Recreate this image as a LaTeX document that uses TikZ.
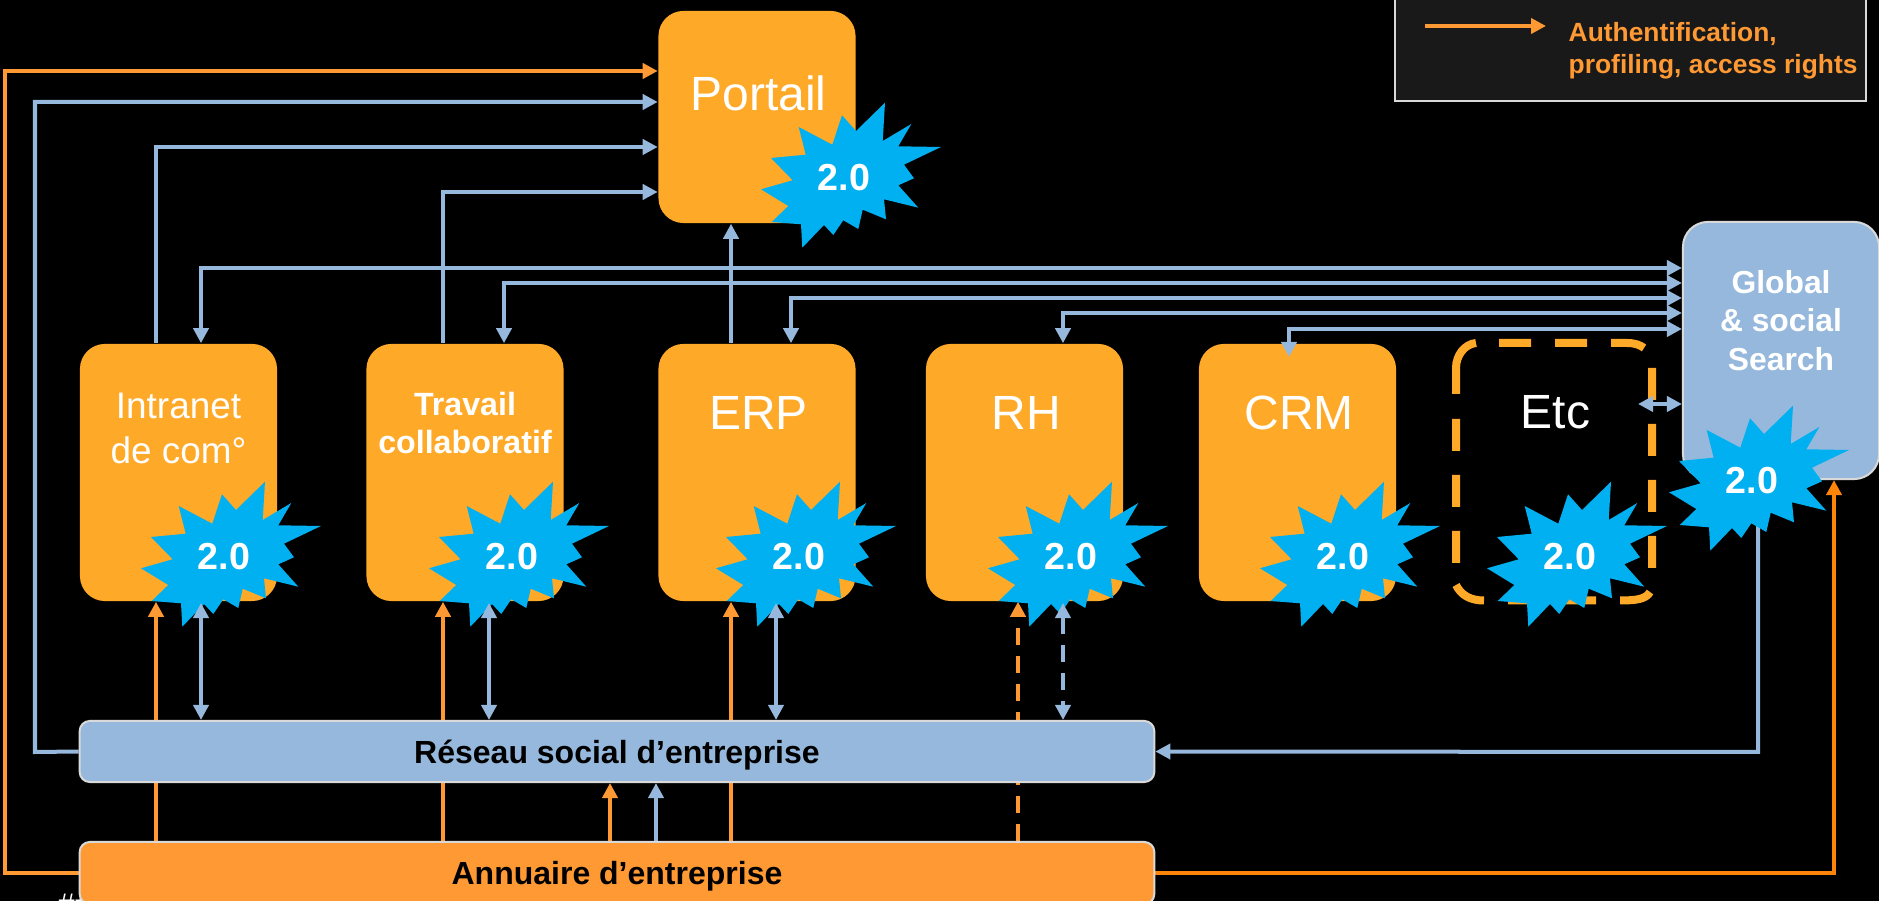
\documentclass[tikz,border=0pt]{standalone}
\usepackage{fontspec}
\setmainfont{Liberation Sans}
\usetikzlibrary{arrows.meta}
\definecolor{boxorange}{HTML}{FFA928}
\definecolor{wireorange}{HTML}{FF9933}
\definecolor{wireblue}{HTML}{95B8DC}
\definecolor{burstblue}{HTML}{00B0F0}
\pgfdeclarelayer{ground}
\pgfdeclarelayer{wires}
\pgfdeclarelayer{front}
\pgfsetlayers{ground,wires,main,front}
\tikzset{
    tip/.style={-{Triangle[length=0.15cm,width=0.15cm]}},
    bothtips/.style={{Triangle[length=0.15cm,width=0.15cm]}-{Triangle[length=0.15cm,width=0.15cm]}},
    orangewire/.style={draw=wireorange,line width=0.04cm},
    bluewire/.style={draw=wireblue,line width=0.04cm},
    dashwire/.style={dash pattern=on 0.17cm off 0.11cm},
    appbox/.style={fill=boxorange,rounded corners=0.25cm,minimum width=1.97cm,minimum height=2.57cm,text=white,align=center,inner sep=0pt},
    bigtext/.style={font=\fontsize{13.65}{16}\selectfont,execute at begin node={\kern0.03cm}},
    bartext/.style={font=\fontsize{9.1}{11}\selectfont\bfseries,text=black,text height=0.235cm,text depth=0cm},
    barbox/.style={rounded corners=0.1cm,draw=white!85!black,line width=0.02cm,minimum width=10.74cm,inner sep=0pt},
    bursttext/.style={font=\fontsize{10.7}{12}\selectfont\bfseries,text=white,inner sep=0pt},
}
\newcommand{\burstpath}{(41,-75.3) -- (38.7,-37) -- (67.3,-54) -- (54.3,-31.7) -- (97,-31) -- (60,-13.3) -- (70,0.3) -- (54.3,7.3) -- (74.3,29.7) -- (40,21.3) -- (42,41.3) -- (18.7,31.7) -- (14.3,51) -- (-0.7,42.3) -- (-10.7,57) -- (-20,47) -- (-41.7,69.7) -- (-43,46.3) -- (-72.3,44) -- (-55.7,28) -- (-83,11.3) -- (-51.3,2.3) -- (-73,-20) -- (-38.3,-23.3) -- (-45.3,-51) -- (-11.7,-33.3) -- (-2,-62.7) -- (12,-47) -- cycle}
\begin{document}
\begin{tikzpicture}[x=0.01cm,y=-0.01cm]
    \path[use as bounding box,clip] (0,0) rectangle (1879,901);
    \begin{pgfonlayer}{ground}
    \fill[black] (0,0) rectangle (1879,901);
    \end{pgfonlayer}
    % legend
    \node[draw=white!85!black,fill=black!90!white,line width=0.02cm,minimum width=4.7cm,minimum height=1.22cm] (legend) at (1630.5,40) {};
    \node[font=\fontsize{7.5}{9.1}\selectfont\bfseries,text=wireorange,align=left,inner sep=0pt,anchor=west] (legendtext) at (1568,50.5) {Authentification,\\profiling, access rights};
    \coordinate (legendstart) at (1425,26);
    \coordinate (legendend) at (1546,26);
    \draw[orangewire,tip] (legendstart) -- (legendend);
    % boxes
    \node[appbox,bigtext,minimum height=2.12cm,text height=0.2cm,text depth=0.32cm] (portail) at (757,117) {Portail};
    \node[appbox,font=\fontsize{10.5}{12.8}\selectfont,text height=0.2cm,text depth=0.37cm] (intranet) at (178.5,472.5) {Intranet\\de com°};
    \node[appbox,font=\fontsize{9.15}{10.8}\selectfont\bfseries,text height=0.2cm,text depth=0.58cm] (travail) at (465,472.5) {Travail\\collaboratif};
    \node[appbox,bigtext,text height=0.2cm,text depth=1.06cm] (erp) at (757,472.5) {ERP};
    \node[appbox,bigtext,text height=0.2cm,text depth=1.06cm] (rh) at (1024.5,472.5) {RH};
    \node[appbox,bigtext,text height=0.2cm,text depth=1.06cm] (crm) at (1297.5,472.5) {CRM};
    \node[appbox,bigtext,fill=none,minimum width=1.96cm,text height=0.2cm,text depth=1.05cm] (etc) at (1554,471.5) {Etc};
    % dashes of the Etc outline
    \draw[boxorange,line width=0.08cm]
        (1456,563) -- (1456,531) (1456,507) -- (1456,475) (1456,451) -- (1456,419)
        (1456,394) -- (1456,368) .. controls (1456,355) and (1465,344) .. (1476,343)
        (1499,343) -- (1531,343) (1555,343) -- (1587,343)
        (1611,343) -- (1627,343) .. controls (1635,343) and (1640,345) .. (1644,348)
        (1652,368) -- (1652,400) (1652,424) -- (1652,456) (1652,480) -- (1652,512) (1652,536) -- (1652,568)
        (1650,592) .. controls (1646,599) and (1637,600.5) .. (1620,600.5)
        (1596,600.5) -- (1564,600.5) (1540,600.5) -- (1508,600.5)
        (1484,600.5) .. controls (1470,600.5) and (1461,595) .. (1456,585);
    \node[appbox,fill=wireblue,draw=white!85!black,line width=0.02cm,minimum width=1.96cm,font=\fontsize{9.05}{10.95}\selectfont\bfseries,text height=0.6cm,text depth=0.2cm] (search) at (1781,350.5) {Global\\\& social\\Search};
    \node[barbox,bartext,fill=wireblue,minimum height=0.61cm] (reseau) at (617,751.5) {Réseau social d’entreprise};
    \node[barbox,bartext,fill=wireorange,minimum height=0.62cm] (annuaire) at (617,873) {Annuaire d’entreprise};
    \begin{pgfonlayer}{wires}
    \node[text=white,inner sep=0pt,font=\fontsize{8.5}{10}\selectfont\itshape,anchor=base west] (sharp) at (57,915) {\#\#};
    \end{pgfonlayer}
    % 2.0 bursts
    \foreach \x/\y/\name in {844/178/portail,224/557/intranet,512/557/travail,799/557/erp,1071/557/rh,1343/557/crm,1570/557/etc,1752/481/search}{
        \fill[burstblue,shift={(\x,\y)}] \burstpath;
        \node[bursttext] (burst\name) at (\x,\y) {2.0};
    }
    % connectors
    \begin{pgfonlayer}{wires}
    \draw[orangewire,tip] (annuaire.west) -- (5,873) -- (5,71) -- (portail.west |- 5,71);
    \draw[bluewire,tip] (reseau.west) -- (35,752) -- (35,102) -- (portail.west |- 35,102);
    \draw[bluewire,tip] (156,0 |- intranet.north) -- (156,147) -- (portail.west |- 156,147);
    \draw[bluewire,tip] (443,0 |- travail.north) -- (443,192) -- (portail.west |- 443,192);
    \draw[bluewire,tip] (731,0 |- erp.north) -- (731,0 |- portail.south);
    \foreach \name/\xb/\yb in {intranet/201/268,travail/504/283,erp/791/298,rh/1063/313}
        \draw[bluewire,bothtips] (\xb,0 |- \name.north) -- (\xb,\yb) -- (search.west |- \xb,\yb);
    \foreach \name/\xo in {intranet/156,travail/443,erp/731}
        \draw[orangewire,tip] (\xo,0 |- annuaire.north) -- (\xo,0 |- \name.south);
    \draw[orangewire,tip,dashwire] (1018,0 |- annuaire.north) -- (1018,0 |- rh.south);
    \draw[orangewire,tip] (610,0 |- annuaire.north) -- (610,0 |- reseau.south);
    \draw[bluewire,tip] (656,0 |- annuaire.north) -- (656,0 |- reseau.south);
    \draw[bluewire,tip] (1758,0 |- search.south) -- (1758,752) -- (reseau.east);
    \draw[draw=orange!80!wireorange,line width=0.04cm,tip] (annuaire.east) -| (1834,0 |- search.south);
    \end{pgfonlayer}
    \begin{pgfonlayer}{front}
    \draw[bluewire,bothtips] (1289,357) -- (1289,329) -- (search.west |- 1289,329);
    \foreach \xb in {201,489,776}
        \draw[bluewire,bothtips] (\xb,603) -- (\xb,0 |- reseau.north);
    \draw[bluewire,bothtips,dashwire] (1063,603) -- (1063,0 |- reseau.north);
    \draw[bluewire,bothtips] (1638,404) -- (search.west |- 1638,404);
    \end{pgfonlayer}
\end{tikzpicture}
\end{document}
